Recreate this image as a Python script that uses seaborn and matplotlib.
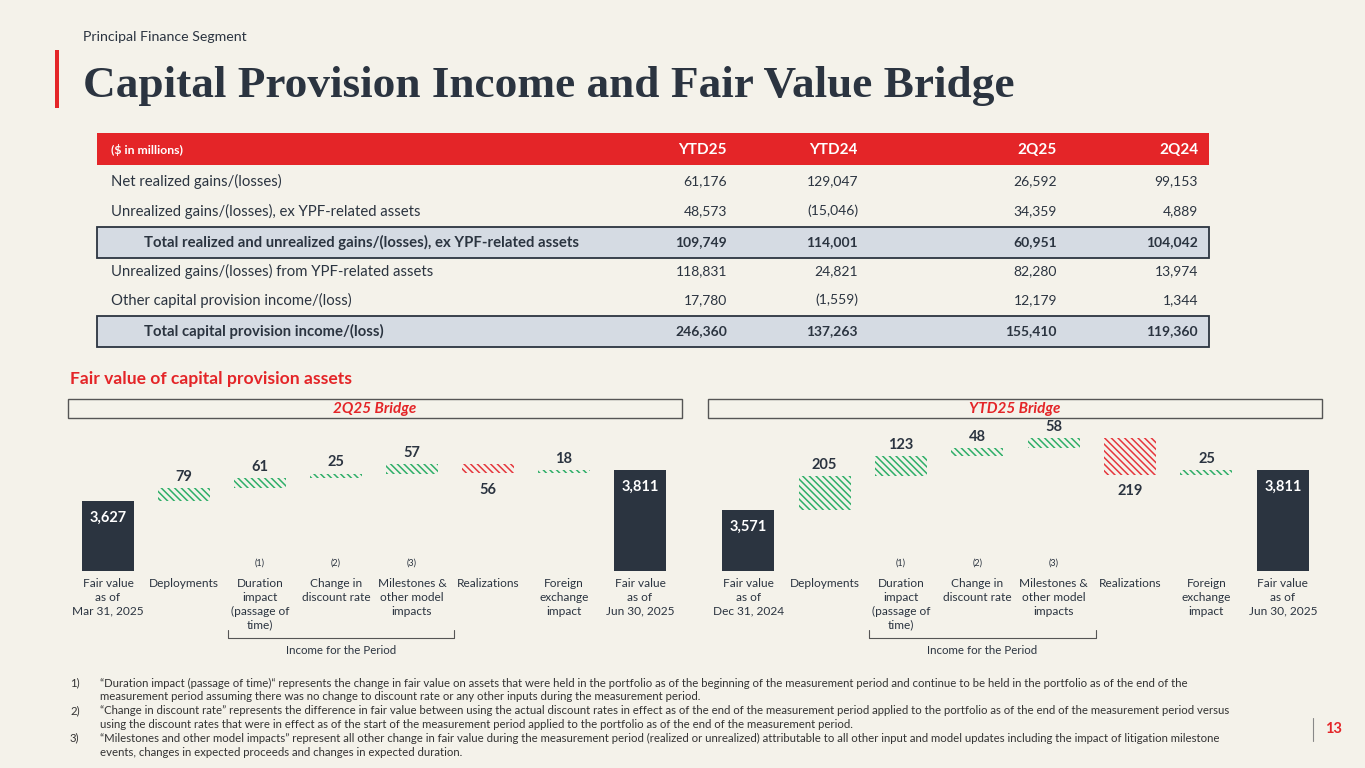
import pandas as pd
import matplotlib
matplotlib.use("Agg")
import matplotlib.pyplot as plt
import matplotlib.patches as mpatches
import seaborn as sns

# Tabelle: Capital provision income
col_heads = ["YTD25", "YTD24", "2Q25", "2Q24"]
row_labels = [
    "Net realized gains/(losses)",
    "Unrealized gains/(losses), ex YPF-related assets",
    "Total realized and unrealized gains/(losses), ex YPF-related assets",
    "Unrealized gains/(losses) from YPF-related assets",
    "Other capital provision income/(loss)",
    "Total capital provision income/(loss)",
]
row_is_total = [False, False, True, False, False, True]
ytd25 = ["61,176", "48,573", "109,749", "118,831", "17,780", "246,360"]
ytd24 = ["129,047", "(15,046)", "114,001", "24,821", "(1,559)", "137,263"]
q2_25 = ["26,592", "34,359", "60,951", "82,280", "12,179", "155,410"]
q2_24 = ["99,153", "4,889", "104,042", "13,974", "1,344", "119,360"]

# Bridges
steps = ["Deployments", "Duration\nimpact\n(passage of\ntime)", "Change in\ndiscount rate",
         "Milestones &\nother model\nimpacts", "Realizations", "Foreign\nexchange\nimpact"]
step_notes = ["", "(1)", "(2)", "(3)", "", ""]
end_label = "Fair value\nas of\nJun 30, 2025"

q_start_label = "Fair value\nas of\nMar 31, 2025"
q_start, q_end = 3627, 3811
q_moves = [79, 61, 25, 57, -56, 18]

ytd_start_label = "Fair value\nas of\nDec 31, 2024"
ytd_start, ytd_end = 3571, 3811
ytd_moves = [205, 123, 48, 58, -219, 25]

footnotes = [
    ("1)", "\u201cDuration impact (passage of time)\u201c represents the change in fair value on assets that were held in the portfolio as of the beginning of the measurement period and continue to be held in the portfolio as of the end of the"),
    ("", "measurement period assuming there was no change to discount rate or any other inputs during the measurement period."),
    ("2)", "\u201cChange in discount rate\u201d represents the difference in fair value between using the actual discount rates in effect as of the end of the measurement period applied to the portfolio as of the end of the measurement period versus"),
    ("", "using the discount rates that were in effect as of the start of the measurement period applied to the portfolio as of the end of the measurement period."),
    ("3)", "\u201cMilestones and other model impacts\u201d represent all other change in fair value during the measurement period (realized or unrealized) attributable to all other input and model updates including the impact of litigation milestone"),
    ("", "events, changes in expected proceeds and changes in expected duration."),
]

BG = "#F4F2EA"
DARK = "#2B3440"
RED = "#E42528"
GREEN = "#2EAE68"
NEG = "#E5373D"
TOTAL_FILL = "#D5DBE3"
HATCH = "\\\\\\\\\\"

sns.set_theme(style="white")
plt.rcParams["font.family"] = ["Lato", "DejaVu Sans"]
plt.rcParams["hatch.linewidth"] = 1.1

fig = plt.figure(figsize=(13.65, 7.68), dpi=100, facecolor=BG)

# Overlay in Pixelkoordinaten
ov = fig.add_axes([0, 0, 1, 1])
ov.set_xlim(0, 1365)
ov.set_ylim(768, 0)
ov.axis("off")
ov.patch.set_alpha(0)

ov.text(83, 37, "Principal Finance Segment", fontsize=10.2, color=DARK, va="center")
ov.add_patch(mpatches.Rectangle((55, 50), 4, 58, color=RED, lw=0))
ov.text(83, 97, "Capital Provision Income and Fair Value Bridge", fontsize=32.6,
        family="Liberation Serif", fontweight="bold", color=DARK, va="baseline")

# Tabelle
ov.add_patch(mpatches.Rectangle((97, 133), 1112, 32, color=RED, lw=0))
ov.text(111, 150, "($ in millions)", fontsize=8.8, color="white", fontweight="bold", va="center")
col_x = [727, 858, 1057, 1198]
for cx, h in zip(col_x, col_heads):
    ov.text(cx, 150, h, fontsize=11, color="white", fontweight="bold", ha="right", va="center")

row_y = [181, 211, 242, 271, 300, 331]
cols = [ytd25, ytd24, q2_25, q2_24]
for i, (lab, tot, ry) in enumerate(zip(row_labels, row_is_total, row_y)):
    fw = "bold" if tot else "normal"
    if tot:
        ov.add_patch(mpatches.Rectangle((97, ry - 15.5), 1112, 31, facecolor=TOTAL_FILL,
                                        edgecolor=DARK, lw=1.3))
    ov.text(144 if tot else 111, ry, lab, fontsize=10.7, color=DARK, fontweight=fw, va="center")
    for cx, col in zip(col_x, cols):
        ov.text(cx, ry, col[i], fontsize=10, color=DARK, fontweight=fw, ha="right", va="center")

ov.text(70, 379, "Fair value of capital provision assets", fontsize=12.6, color=RED,
        fontweight="bold", va="center")

for bx, title in [(68, "2Q25 Bridge"), (708, "YTD25 Bridge")]:
    ov.add_patch(mpatches.Rectangle((bx, 399), 614, 19, facecolor="none", edgecolor="#555555", lw=1))
    ov.text(bx + 307, 409, title, fontsize=11, color=RED, fontweight="bold", style="italic",
            ha="center", va="center")

for k, (num, txt) in enumerate(footnotes):
    fy = 683 + k * 13.8
    if num:
        ov.text(70, fy, num, fontsize=8.2, color="#333333", va="center")
    ov.text(100, fy, txt, fontsize=8.2, color="#333333", va="center")

ov.plot([1313, 1313], [718, 741], color="#888888", lw=0.8)
ov.text(1325, 729, "13", fontsize=10.5, color=RED, fontweight="bold", va="center")


def bridge(ax, start_label, start, moves, end):
    cats = [start_label] + steps + [end_label]
    bottoms, heights, kinds = [0], [start], ["total"]
    cum = start
    for m in moves:
        if m >= 0:
            bottoms.append(cum)
            heights.append(m)
            kinds.append("up")
        else:
            bottoms.append(cum + m)
            heights.append(-m)
            kinds.append("down")
        cum += m
    bottoms.append(0)
    heights.append(end)
    kinds.append("total")

    df = pd.DataFrame({"cat": cats, "h": heights})
    sns.barplot(data=df, x="cat", y="h", bottom=bottoms, ax=ax, errorbar=None,
                saturation=1, width=0.68, color=DARK)
    for p, k in zip(ax.patches, kinds):
        if k == "total":
            p.set_facecolor(DARK)
            p.set_edgecolor(DARK)
            p.set_linewidth(0)
        else:
            p.set_facecolor(BG)
            p.set_edgecolor(GREEN if k == "up" else NEG)
            p.set_hatch(HATCH)
            p.set_linewidth(0)

    vals = [start] + moves + [end]
    for i, (b, h, k, v) in enumerate(zip(bottoms, heights, kinds, vals)):
        if k == "total":
            ax.annotate(f"{v:,}", (i, b + h), xytext=(0, -7), textcoords="offset points",
                        ha="center", va="top", color="white", fontweight="bold", fontsize=10.5)
        elif k == "up":
            ax.annotate(f"{abs(v)}", (i, b + h), xytext=(0, 3), textcoords="offset points",
                        ha="center", va="bottom", color=DARK, fontweight="bold", fontsize=10.5)
        else:
            ax.annotate(f"{abs(v)}", (i, b), xytext=(0, -7), textcoords="offset points",
                        ha="center", va="top", color=DARK, fontweight="bold", fontsize=10.5)

    xt = ax.get_xaxis_transform()
    for i, n in enumerate(step_notes):
        if n:
            ax.text(i + 1, 0.055, n, transform=xt, ha="center", va="center", fontsize=6.5, color=DARK)

    ax.plot([1.58, 1.58, 4.55, 4.55], [-0.405, -0.46, -0.46, -0.405], transform=xt,
            clip_on=False, color="#555555", lw=0.8)
    ax.text(3.065, -0.545, "Income for the Period", transform=xt, ha="center", va="center",
            fontsize=8.3, color=DARK)

    ax.set_xlim(-0.5, 7.5)
    ax.set_ylim(3205, 4085)
    ax.set_xlabel("")
    ax.set_ylabel("")
    ax.set_yticks([])
    ax.tick_params(axis="x", length=0, pad=5, labelsize=8.6, labelcolor=DARK)
    for t in ax.get_xticklabels():
        t.set_linespacing(1.32)
    sns.despine(ax=ax, left=True, bottom=True)
    ax.patch.set_alpha(0)


ax1 = fig.add_axes([70 / 1365, 197 / 768, 608 / 1365, 146 / 768])
bridge(ax1, q_start_label, q_start, q_moves, q_end)
ax2 = fig.add_axes([710 / 1365, 197 / 768, 611 / 1365, 146 / 768])
bridge(ax2, ytd_start_label, ytd_start, ytd_moves, ytd_end)

fig.savefig("out.png", dpi=100, facecolor=BG)
